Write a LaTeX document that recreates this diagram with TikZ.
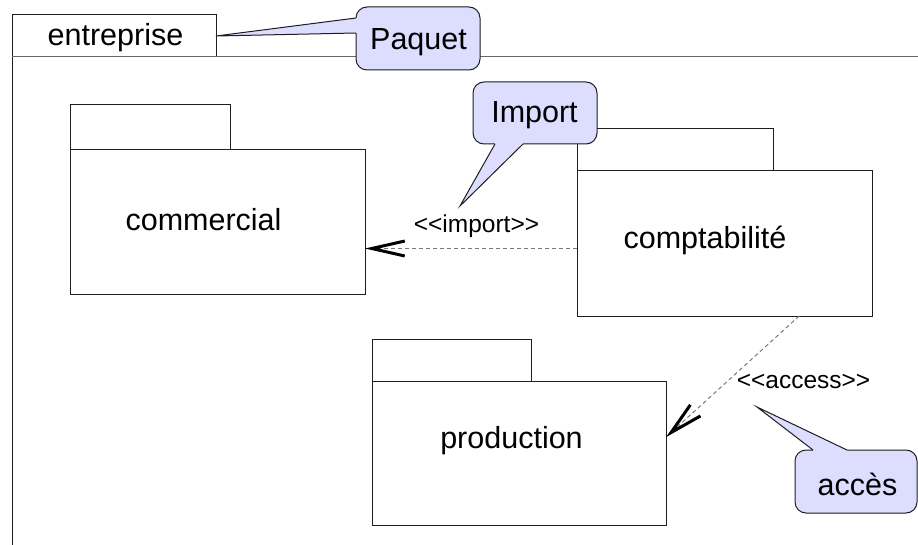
\documentclass[tikz,border=0pt]{standalone}
\usepackage{fontspec}
\setmainfont{Liberation Sans}
\usetikzlibrary{arrows.meta,calc}
\definecolor{callfill}{RGB}{221,221,255}
\definecolor{pkgline}{RGB}{30,30,30}
\definecolor{dashline}{RGB}{120,120,120}
\begin{document}
\begin{tikzpicture}[x=1pt,y=-1pt,
  pkg/.style={draw=pkgline, line width=1pt, inner sep=0pt, outer sep=0pt, rectangle, anchor=north west},
  big/.style={font=\fontsize{30.5}{36}\selectfont, anchor=base, inner sep=0pt},
  small/.style={font=\fontsize{24.5}{30}\selectfont, anchor=base, inner sep=0pt},
  dep/.style={draw=dashline, dash pattern=on 4pt off 3pt, line width=1pt,
    -{Straight Barb[length=33pt, width=15pt, line width=3pt, color=black]}},
  callbox/.style={draw=pkgline, fill=callfill, line width=1pt, rounded corners=11pt,
    inner sep=0pt, outer sep=0pt, rectangle, anchor=north west},
  callptr/.style={draw=pkgline, line width=1pt, line join=miter},
]
\useasboundingbox (0,0) rectangle (918,545);
\clip (0,0) rectangle (918,545);

% outer package "entreprise"
\node[pkg, minimum width=204pt, minimum height=42pt] (enttab) at (12,15) {};
\draw[draw=pkgline, line width=1pt] (enttab.south west) -- ($(enttab.south west)+(0,520)$);
\draw[draw=gray!80!black, line width=1pt] (enttab.south west) -- ($(enttab.south west)+(920,0)$);
\node[big] (enttext) at (115.5,46) {entreprise};

% commercial
\node[pkg, minimum width=295pt, minimum height=145pt] (commercial) at (70,150) {};
\node[pkg, minimum width=160pt, minimum height=45pt, anchor=south west] (commtab) at (commercial.north west) {};
\node[big] (commtext) at (203.5,231) {commercial};

% comptabilite
\node[pkg, minimum width=295pt, minimum height=145pt] (compta) at (577,171) {};
\node[pkg, minimum width=196pt, minimum height=42pt, anchor=south west] (comptatab) at (compta.north west) {};
\node[big] (comptatext) at (705,249) {comptabilité};

% production
\node[pkg, minimum width=294pt, minimum height=144pt] (prod) at (372,381) {};
\node[pkg, minimum width=159pt, minimum height=42pt, anchor=south west] (prodtab) at (prod.north west) {};
\node[big] (prodtext) at (511.5,448) {production};

% dependencies
\draw[dep] ($(compta.west)+(0,5)$) -- ($(compta.west -| commercial.east)+(0,5)$);
\node[small] (implabel) at (476.5,233) {<{}<import>{}>};
\draw[dep] ($(compta.south west)!0.753!(compta.south east)$) -- ($(prod.north east)!0.39!(prod.south east)$);
\node[small] (acclabel) at (803.5,388) {<{}<access>{}>};

% callout "Paquet"
\node[callbox, minimum width=124pt, minimum height=63pt] (paquet) at (356,7) {};
\coordinate (paqtip) at (enttab.east);
\fill[callfill] (paqtip) -- (paquet.west |- 0,18) -- ($(paquet.west |- 0,18)+(3,0)$) -- ($(paquet.west |- 0,33)+(3,0)$) -- (paquet.west |- 0,33) -- cycle;
\draw[callptr] (paquet.west |- 0,18) -- (paqtip) -- (paquet.west |- 0,33);
\node[big] (paqtext) at (418.5,50) {Paquet};

% callout "Import"
\node[callbox, minimum width=124pt, minimum height=62pt] (import) at (473,82) {};
\coordinate (imptip) at (460,206);
\fill[callfill] (imptip) -- (import.south -| 495,0) -- ($(import.south -| 495,0)+(0,-3)$) -- ($(import.south -| 523,0)+(0,-3)$) -- (import.south -| 523,0) -- cycle;
\draw[callptr] (import.south -| 495,0) -- (imptip) -- (import.south -| 523,0);
\node[big] (imptext) at (534.5,123) {Import};

% callout "acces"
\node[callbox, minimum width=122pt, minimum height=63pt] (acces) at (795,450) {};
\coordinate (acctip) at (757,407);
\fill[callfill] (acctip) -- (acces.north -| 813,0) -- ($(acces.north -| 813,0)+(0,3)$) -- ($(acces.north -| 847,0)+(0,3)$) -- (acces.north -| 847,0) -- cycle;
\draw[callptr] (acces.north -| 813,0) -- (acctip) -- (acces.north -| 847,0);
\node[big] (acctext) at (857.5,495) {accès};
\end{tikzpicture}
\end{document}
